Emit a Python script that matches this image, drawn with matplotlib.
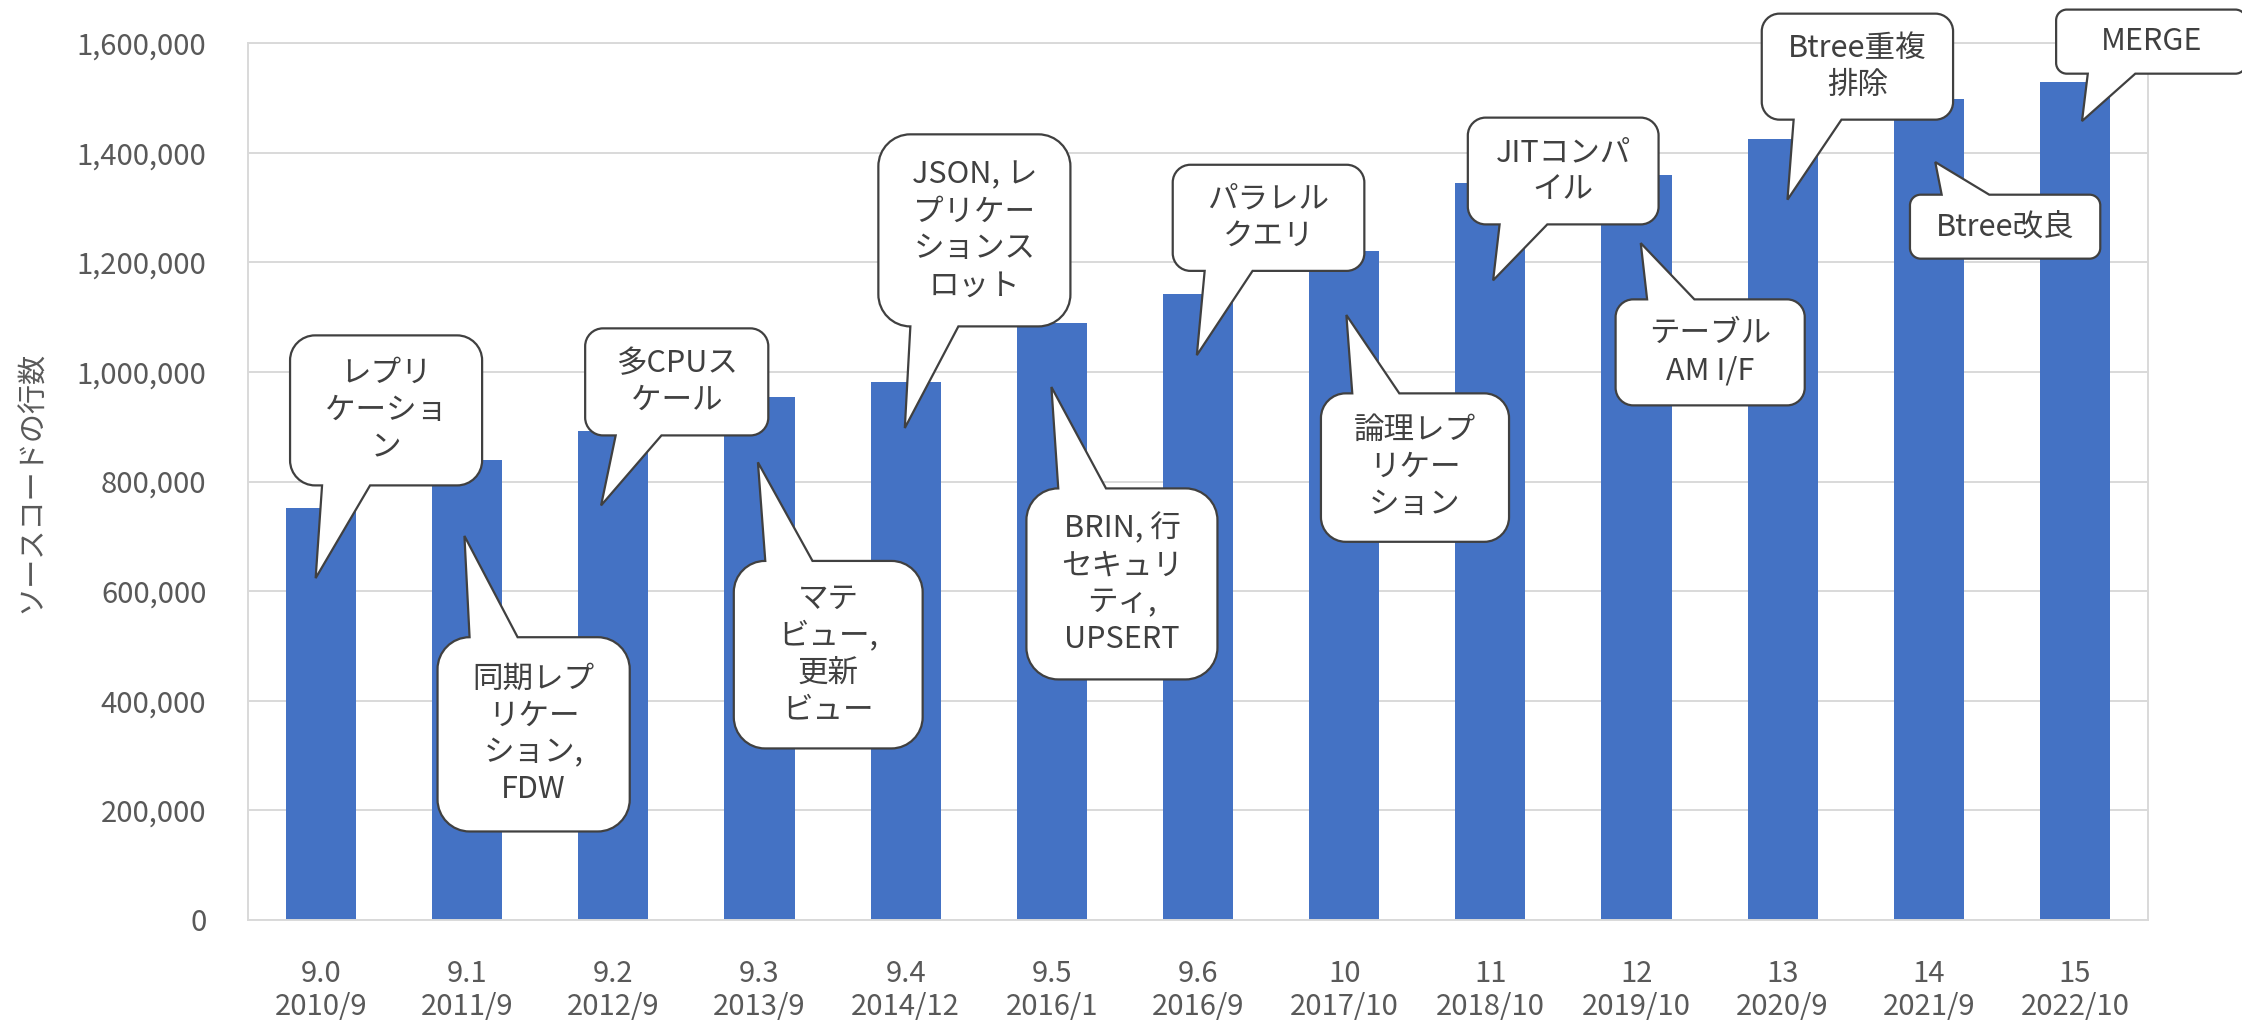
import numpy as np
import matplotlib.pyplot as plt
from matplotlib.path import Path
from matplotlib.patches import PathPatch
from matplotlib.transforms import IdentityTransform
from matplotlib.ticker import FuncFormatter

plt.rcParams['font.family'] = ['Noto Sans CJK JP', 'DejaVu Sans']

versions = ['9.0', '9.1', '9.2', '9.3', '9.4', '9.5', '9.6',
            '10', '11', '12', '13', '14', '15']
dates = ['2010/9', '2011/9', '2012/9', '2013/9', '2014/12', '2016/1', '2016/9',
         '2017/10', '2018/10', '2019/10', '2020/9', '2021/9', '2022/10']
lines = [752000, 840000, 892000, 954000, 982000, 1090000, 1142000,
         1221000, 1344000, 1360000, 1425000, 1498000, 1528000]

notes = ['レプリ\nケーショ\nン',
         '同期レプ\nリケー\nション,\nFDW',
         '多CPUス\nケール',
         'マテ\nビュー,\n更新\nビュー',
         'JSON, レ\nプリケー\nションス\nロット',
         'BRIN, 行\nセキュリ\nティ,\nUPSERT',
         'パラレル\nクエリ',
         '論理レプ\nリケー\nション',
         'JITコンパ\nイル',
         'テーブル\nAM I/F',
         'Btree重複\n排除',
         'Btree改良',
         'MERGE']

# callout placement: box left, right, top, bottom, tip x, tip y (data coords)
note_pos = [(-0.212, 1.102, 1066600, 792900, -0.037, 623700),
            (0.797, 2.112, 515900, 161500, 0.981, 700700),
            (1.807, 3.060, 1079400, 884100, 1.916, 756400),
            (2.824, 4.116, 655100, 313000, 2.989, 835000),
            (3.813, 5.127, 1433400, 1083000, 3.994, 897600),
            (4.826, 6.133, 787400, 438900, 4.997, 972400),
            (5.827, 7.138, 1377900, 1184300, 5.992, 1030500),
            (6.841, 8.128, 960800, 690000, 7.015, 1103800),
            (7.846, 9.151, 1463900, 1269100, 8.019, 1167000),
            (8.857, 10.151, 1132300, 938900, 9.029, 1235000),
            (9.857, 11.166, 1653600, 1460200, 10.033, 1314200),
            (10.871, 12.173, 1323300, 1206600, 11.044, 1382800),
            (11.871, 13.171, 1661000, 1544100, 12.048, 1457600)]


def callout(ax, text, left, right, top, bottom, tx, ty):
    (x0, y1), (x1, y0) = ax.transData.transform([(left, top), (right, bottom)])
    px, py = ax.transData.transform((tx, ty))
    w = x1 - x0
    h = y1 - y0
    r = min(w, h) / 6
    k = 0.5523 * r
    if px < (x0 + x1) / 2:
        b1, b2 = x0 + w * 2 / 12, x0 + w * 5 / 12
    else:
        b1, b2 = x0 + w * 7 / 12, x0 + w * 10 / 12
    C4 = Path.CURVE4
    verts = [(x0 + r, y0)]
    codes = [Path.MOVETO]
    if py < y0:
        verts += [(b1, y0), (px, py), (b2, y0)]
        codes += [Path.LINETO] * 3
    verts += [(x1 - r, y0), (x1 - r + k, y0), (x1, y0 + r - k), (x1, y0 + r),
              (x1, y1 - r), (x1, y1 - r + k), (x1 - r + k, y1), (x1 - r, y1)]
    codes += [Path.LINETO, C4, C4, C4, Path.LINETO, C4, C4, C4]
    if py > y1:
        verts += [(b2, y1), (px, py), (b1, y1)]
        codes += [Path.LINETO] * 3
    verts += [(x0 + r, y1), (x0 + r - k, y1), (x0, y1 - r + k), (x0, y1 - r),
              (x0, y0 + r), (x0, y0 + r - k), (x0 + r - k, y0), (x0 + r, y0),
              (x0 + r, y0)]
    codes += [Path.LINETO, C4, C4, C4, Path.LINETO, C4, C4, C4, Path.CLOSEPOLY]
    patch = PathPatch(Path(verts, codes), fc='white', ec='#404040', lw=1.6,
                      zorder=5, clip_on=False)
    patch.set_transform(IdentityTransform())
    ax.add_patch(patch)
    ax.text((left + right) / 2, (top + bottom) / 2, text, ha='center', va='center',
            multialignment='center', linespacing=1.25, fontsize=22,
            color='#404040', zorder=6, clip_on=False)


fig = plt.figure(figsize=(22.42, 10.27), dpi=100)
ax = fig.add_axes([0.1106, 0.1042, 0.8475, 0.8539])

x = np.arange(len(versions))
ax.bar(x, lines, width=0.48, color='#4472C4', zorder=2)

ax.set_xlim(-0.5, len(versions) - 0.5)
ax.set_ylim(0, 1600000)
ax.set_yticks(np.arange(0, 1600001, 200000))
ax.yaxis.set_major_formatter(FuncFormatter(lambda v, p: f'{int(v):,}'))
ax.set_xticks(x)
ax.set_xticklabels([f'{v}\n{d}' for v, d in zip(versions, dates)], linespacing=1.15)
ax.tick_params(axis='x', length=0, pad=28, labelsize=21, labelcolor='#595959')
ax.tick_params(axis='y', length=0, pad=30, labelsize=21, labelcolor='#595959')
ax.grid(axis='y', color='#D9D9D9', lw=1.4)
ax.set_axisbelow(True)
for s in ax.spines.values():
    s.set_color('#D9D9D9')
    s.set_linewidth(1.4)

ax.set_ylabel('ソースコードの行数', fontsize=21, color='#595959')
ax.yaxis.set_label_coords(-0.106, 0.5)

for t, pos in zip(notes, note_pos):
    callout(ax, t, *pos)

fig.savefig('out.png', dpi=100)
